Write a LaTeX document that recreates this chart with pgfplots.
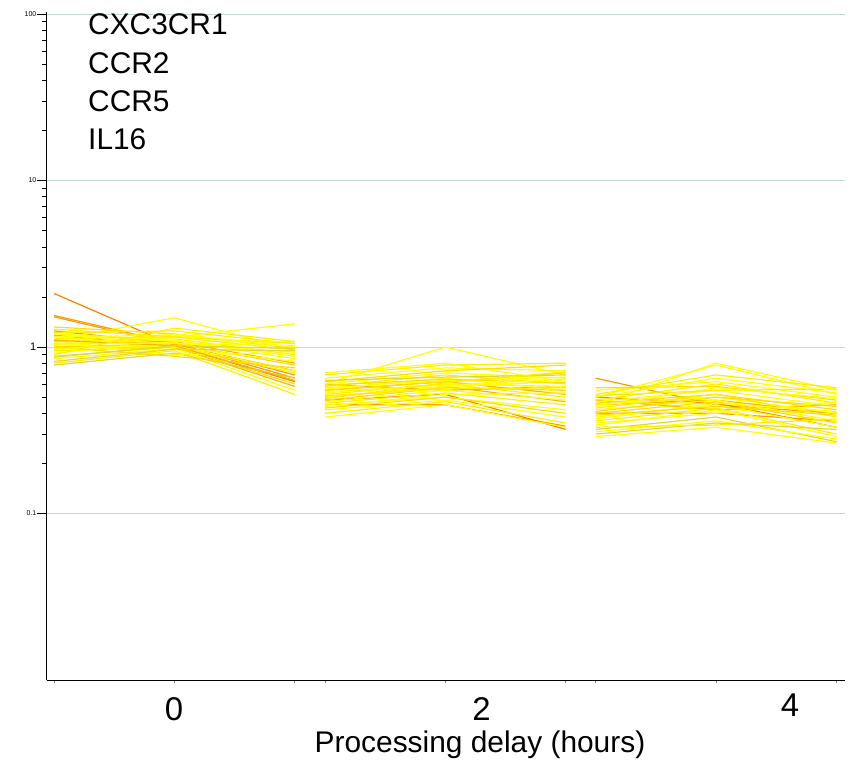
\documentclass[border=0pt]{standalone}
\usepackage{pgfplots}
\pgfplotsset{compat=1.18}
\usepackage{fontspec}
\setmainfont{Liberation Sans}
\definecolor{lnyA}{HTML}{FFFF00}
\definecolor{lnyB}{HTML}{FFEE00}
\definecolor{lnyC}{HTML}{FFDD00}
\definecolor{lnoA}{HTML}{FFB400}
\definecolor{lnoB}{HTML}{FF9A00}
\definecolor{lnoC}{HTML}{FF8000}
\definecolor{lnol}{HTML}{E0D830}
\definecolor{gridc}{HTML}{C4D8D8}
\newcommand{\ga}[4]{\addplot[color=#1] coordinates {(0,#2)(1,#3)(2,#4)};}
\newcommand{\gb}[4]{\addplot[color=#1] coordinates {(2.25,#2)(3.25,#3)(4.25,#4)};}
\newcommand{\gc}[4]{\addplot[color=#1] coordinates {(4.5,#2)(5.5,#3)(6.5,#4)};}
\begin{document}
\begin{tikzpicture}[x=1bp,y=1bp]
\path[use as bounding box] (-47,-82) rectangle (804,680);
\begin{axis}[
  at={(0,0)}, anchor=south west,
  scale only axis, width=798bp, height=668bp,
  ymode=log, ymin=0.01, ymax=103,
  xmin=-0.058, xmax=6.571,
  axis x line*=bottom, axis y line*=left,
  axis line style={black, line width=1bp},
  xtick={0,1,2,2.25,3.25,4.25,4.5,5.5,6.5},
  xticklabels={\relax,\relax,\relax,\relax,\relax,\relax,\relax,\relax,\relax},
  x tick style={gray, line width=0.6bp, /pgfplots/major tick length=3bp},
  ytick={0.1,1,10,100},
  yticklabels={0.1,{\fontsize{11}{12}\selectfont 1},10,100},
  y tick style={black, line width=0.6bp},
  major tick length=10bp, minor tick length=5bp,
  tick align=outside,
  yticklabel style={font=\fontsize{7}{8}\selectfont, inner sep=0.5bp},
  ymajorgrids, major grid style={gridc, line width=1bp},
  every axis plot/.append style={line width=1.2bp, mark=none},
  clip=true,
]
% ---- group 0 h ----
\ga{lnoC}{2.10}{1.02}{0.62}
\ga{lnoB}{1.55}{1.05}{0.68}
\ga{lnoB}{1.52}{1.03}{0.72}
\ga{lnoA}{1.18}{1.00}{0.58}
\ga{lnoA}{1.05}{1.08}{0.80}
\ga{lnoB}{1.25}{1.05}{0.65}
\ga{lnyA}{1.10}{1.50}{0.95}
\ga{lnyA}{1.00}{1.15}{1.38}
\ga{lnyC}{1.32}{1.20}{0.98}
\ga{lnyB}{1.22}{1.25}{1.05}
\ga{lnyA}{1.15}{1.18}{1.00}
\ga{lnyB}{1.08}{1.12}{0.90}
\ga{lnyA}{1.05}{1.10}{0.85}
\ga{lnyC}{1.00}{1.05}{0.78}
\ga{lnyA}{0.98}{1.02}{0.72}
\ga{lnyB}{0.95}{1.00}{0.70}
\ga{lnyA}{0.92}{1.08}{1.08}
\ga{lnyC}{0.88}{1.00}{0.60}
\ga{lnyA}{0.85}{0.98}{0.55}
\ga{lnyB}{0.80}{0.95}{0.52}
\ga{lnol}{0.78}{0.92}{0.65}
\ga{lnyA}{1.20}{1.10}{0.88}
\ga{lnyB}{1.12}{1.15}{1.05}
\ga{lnyA}{1.02}{1.20}{1.00}
\ga{lnyA}{1.06}{0.90}{0.92}
\ga{lnyC}{1.00}{0.88}{0.75}
\ga{lnyA}{1.15}{1.00}{0.82}
\ga{lnyB}{1.28}{1.15}{0.96}
\ga{lnyA}{0.97}{1.05}{1.02}
\ga{lnoA}{1.10}{1.02}{0.63}
\ga{lnyA}{1.04}{1.06}{0.93}
\ga{lnyB}{0.90}{1.30}{1.08}
\ga{lnol}{0.87}{1.02}{0.98}
\ga{lnol}{0.82}{0.97}{0.95}
% ---- group 2 h ----
\gb{lnoB}{0.45}{0.45}{0.335}
\gb{lnoA}{0.50}{0.58}{0.47}
\gb{lnoA}{0.55}{0.62}{0.52}
\gb{lnoB}{0.60}{0.55}{0.58}
\gb{lnoC}{0.48}{0.52}{0.32}
\gb{lnyA}{0.60}{1.00}{0.68}
\gb{lnyA}{0.70}{0.80}{0.62}
\gb{lnyB}{0.68}{0.78}{0.80}
\gb{lnyA}{0.65}{0.75}{0.72}
\gb{lnyC}{0.62}{0.72}{0.78}
\gb{lnyA}{0.60}{0.70}{0.65}
\gb{lnyB}{0.58}{0.68}{0.60}
\gb{lnyA}{0.56}{0.65}{0.55}
\gb{lnyC}{0.55}{0.62}{0.70}
\gb{lnyA}{0.53}{0.60}{0.58}
\gb{lnyB}{0.52}{0.60}{0.50}
\gb{lnyA}{0.50}{0.58}{0.62}
\gb{lnyC}{0.48}{0.57}{0.55}
\gb{lnyA}{0.47}{0.55}{0.48}
\gb{lnyB}{0.46}{0.53}{0.45}
\gb{lnyA}{0.45}{0.50}{0.42}
\gb{lnyC}{0.43}{0.50}{0.40}
\gb{lnyA}{0.42}{0.48}{0.38}
\gb{lnyB}{0.40}{0.47}{0.35}
\gb{lnyA}{0.38}{0.45}{0.33}
\gb{lnol}{0.63}{0.66}{0.68}
\gb{lnyA}{0.57}{0.63}{0.66}
\gb{lnyB}{0.51}{0.56}{0.57}
\gb{lnyA}{0.44}{0.52}{0.53}
\gb{lnyC}{0.59}{0.64}{0.61}
\gb{lnyA}{0.54}{0.59}{0.64}
\gb{lnyB}{0.49}{0.61}{0.71}
% ---- group 4 h ----
\gc{lnoB}{0.65}{0.45}{0.40}
\gc{lnoA}{0.48}{0.42}{0.45}
\gc{lnoB}{0.40}{0.40}{0.36}
\gc{lnoA}{0.45}{0.48}{0.40}
\gc{lnoC}{0.50}{0.46}{0.33}
\gc{lnyA}{0.45}{0.80}{0.55}
\gc{lnyA}{0.50}{0.78}{0.52}
\gc{lnyB}{0.52}{0.68}{0.57}
\gc{lnyA}{0.55}{0.62}{0.50}
\gc{lnyC}{0.57}{0.58}{0.48}
\gc{lnyA}{0.50}{0.65}{0.53}
\gc{lnyB}{0.48}{0.60}{0.46}
\gc{lnyA}{0.47}{0.55}{0.44}
\gc{lnyC}{0.46}{0.52}{0.42}
\gc{lnyA}{0.45}{0.50}{0.40}
\gc{lnyB}{0.43}{0.52}{0.38}
\gc{lnyA}{0.42}{0.48}{0.36}
\gc{lnyC}{0.40}{0.47}{0.35}
\gc{lnyA}{0.38}{0.45}{0.33}
\gc{lnyB}{0.36}{0.43}{0.30}
\gc{lnyA}{0.34}{0.42}{0.29}
\gc{lnol}{0.32}{0.38}{0.27}
\gc{lnyA}{0.31}{0.36}{0.28}
\gc{lnol}{0.30}{0.35}{0.32}
\gc{lnyA}{0.29}{0.33}{0.265}
\gc{lnyB}{0.33}{0.34}{0.37}
\gc{lnyA}{0.44}{0.57}{0.49}
\gc{lnyC}{0.41}{0.50}{0.44}
\gc{lnyA}{0.37}{0.46}{0.41}
\gc{lnyB}{0.51}{0.55}{0.56}
\gc{lnyA}{0.35}{0.40}{0.47}
\gc{lnyC}{0.39}{0.44}{0.39}
\end{axis}
% gene names (text)
\begin{scope}[every node/.style={anchor=base west, inner sep=0pt, font=\fontsize{30}{36}\selectfont}]
\node at (41,645) {CXC3CR1};
\node at (41,606) {CCR2};
\node at (41,568) {CCR5};
\node at (41,530) {IL16};
\end{scope}
% x tick labels and axis label
\begin{scope}[every node/.style={inner sep=0pt, font=\fontsize{33}{36}\selectfont}]
\node at (127,-29) {0};
\node at (434.5,-29) {2};
\node at (743,-25.5) {4};
\end{scope}
\node[anchor=base, inner sep=0pt, font=\fontsize{30}{36}\selectfont] at (433,-72.5) {Processing delay (hours)};
\end{tikzpicture}
\end{document}
